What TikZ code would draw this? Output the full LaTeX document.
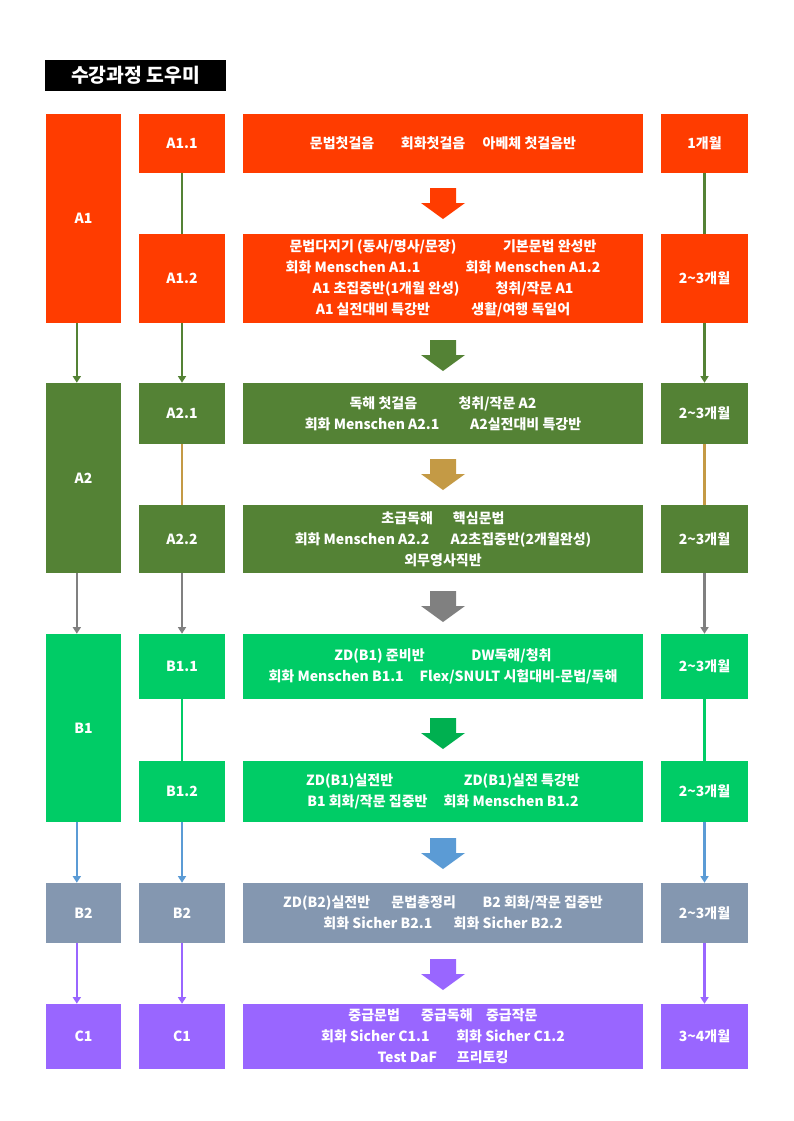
\documentclass[tikz,border=0pt]{standalone}
\usepackage{fontspec}
\setmainfont{Noto Sans CJK KR}
\usetikzlibrary{arrows.meta}
\definecolor{fire}{HTML}{FF3C00}
\definecolor{olive}{HTML}{548235}
\definecolor{sand}{HTML}{C49A45}
\definecolor{mint}{HTML}{00CC66}
\definecolor{leaf}{HTML}{00B050}
\definecolor{sky}{HTML}{5B9BD5}
\definecolor{slate}{HTML}{8497B0}
\definecolor{lilac}{HTML}{9966FF}
\definecolor{grey}{HTML}{808080}
% big block arrow between the course boxes
\newcommand\bigarrow[2]{\fill[#1] (430,#2) -- ++(26,0) -- ++(0,15) -- ++(9,0) -- ++(-22,16) -- ++(-22,-16) -- ++(9,0) -- cycle;}
\begin{document}
\begin{tikzpicture}[x=0.75pt,y=-0.75pt,
  box/.style={text=white,font=\bfseries\fontsize{10.5}{15.75}\selectfont,align=center,inner sep=0pt},
  lvl/.style={box,minimum width=56.25pt},
  sub/.style={box,minimum width=64.5pt},
  info/.style={box,minimum width=300pt},
  term/.style={box,minimum width=65.25pt},
  link/.style={line width=1.6pt},
  go/.style={link,-{Triangle[width=6pt,length=5pt]}}]
\fill[white] (0,0) rectangle (793,1121);
\useasboundingbox (0,0) rectangle (793,1121);
\node[fill=black,text=white,font=\bfseries\fontsize{14.5}{17}\selectfont,minimum width=135.75pt,minimum height=23.25pt] (title) at (135.5,75.5) {수강과정 도우미};

% A1
\node[lvl,fill=fire,minimum height=156.75pt] (A1) at (83.5,218.5) {A1};
\node[sub,fill=fire,minimum height=44.25pt] (a11) at (182,143.5) {A1.1};
\node[info,fill=fire,minimum height=44.25pt] (i11) at (443,143.5) {문법첫걸음\hspace{20pt}회화첫걸음\hspace{13pt}아베체 첫걸음반};
\node[term,fill=fire,minimum height=44.25pt] (t11) at (704.5,143.5) {1개월};
\node[sub,fill=fire,minimum height=66.75pt] (a12) at (182,278.5) {A1.2};
\node[info,fill=fire,minimum height=66.75pt] (i12) at (443,278.5) {문법다지기 (동사/명사/문장)\hspace{35pt}기본문법 완성반\\
  회화 Menschen A1.1\hspace{34pt}회화 Menschen A1.2\\
  A1 초집중반(1개월 완성)\hspace{27pt}청취/작문 A1\\
  A1 실전대비 특강반\hspace{31pt}생활/여행 독일어};
\node[term,fill=fire,minimum height=66.75pt] (t12) at (704.5,278.5) {2\textasciitilde3개월};

% A2
\node[lvl,fill=olive,minimum height=142.5pt] (A2) at (83.5,478) {A2};
\node[sub,fill=olive,minimum height=45.75pt] (a21) at (182,413.5) {A2.1};
\node[info,fill=olive,minimum height=45.75pt] (i21) at (443,413.5) {독해 첫걸음\hspace{31pt}청취/작문 A2\\
  회화 Menschen A2.1\hspace{23pt}A2실전대비 특강반};
\node[term,fill=olive,minimum height=45.75pt] (t21) at (704.5,413.5) {2\textasciitilde3개월};
\node[sub,fill=olive,minimum height=51pt] (a22) at (182,539) {A2.2};
\node[info,fill=olive,minimum height=51pt] (i22) at (443,539) {초급독해\hspace{15pt}핵심문법\\
  회화 Menschen A2.2\hspace{16pt}A2초집중반(2개월완성)\\
  외무영사직반};
\node[term,fill=olive,minimum height=51pt] (t22) at (704.5,539) {2\textasciitilde3개월};

% B1
\node[lvl,fill=mint,minimum height=141pt] (B1) at (83.5,728) {B1};
\node[sub,fill=mint,minimum height=48.75pt] (b11) at (182,666.5) {B1.1};
\node[info,fill=mint,minimum height=48.75pt] (j11) at (443,666.5) {ZD(B1) 준비반\hspace{35pt}DW독해/청취\\
  회화 Menschen B1.1\hspace{12pt}Flex/SNULT 시험대비-문법/독해};
\node[term,fill=mint,minimum height=48.75pt] (u11) at (704.5,666.5) {2\textasciitilde3개월};
\node[sub,fill=mint,minimum height=45.75pt] (b12) at (182,791.5) {B1.2};
\node[info,fill=mint,minimum height=45.75pt] (j12) at (443,791.5) {ZD(B1)실전반\hspace{53pt}ZD(B1)실전 특강반\\
  B1 회화/작문 집중반\hspace{12pt}회화 Menschen B1.2};
\node[term,fill=mint,minimum height=45.75pt] (u12) at (704.5,791.5) {2\textasciitilde3개월};

% B2
\node[lvl,fill=slate,minimum height=45pt] (B2) at (83.5,913) {B2};
\node[sub,fill=slate,minimum height=45pt] (b2) at (182,913) {B2};
\node[info,fill=slate,minimum height=45pt] (j2) at (443,913) {ZD(B2)실전반\hspace{16pt}문법총정리\hspace{20pt}B2 회화/작문 집중반\\
  회화 Sicher B2.1\hspace{16pt}회화 Sicher B2.2};
\node[term,fill=slate,minimum height=45pt] (u2) at (704.5,913) {2\textasciitilde3개월};

% C1
\node[lvl,fill=lilac,minimum height=48.75pt] (C1) at (83.5,1036.5) {C1};
\node[sub,fill=lilac,minimum height=48.75pt] (c1) at (182,1036.5) {C1};
\node[info,fill=lilac,minimum height=48.75pt] (k1) at (443,1036.5) {중급문법\hspace{16pt}중급독해\hspace{10pt}중급작문\\
  회화 Sicher C1.1\hspace{20pt}회화 Sicher C1.2\\
  Test DaF\hspace{15pt}프리토킹};
\node[term,fill=lilac,minimum height=48.75pt] (v1) at (704.5,1036.5) {3\textasciitilde4개월};

% level column
\draw[go,olive] ([xshift=-5pt]A1.south) -- ([xshift=-5pt]A2.north);
\draw[go,grey] ([xshift=-5pt]A2.south) -- ([xshift=-5pt]B1.north);
\draw[go,sky] ([xshift=-5pt]B1.south) -- ([xshift=-5pt]B2.north);
\draw[go,lilac] ([xshift=-5pt]B2.south) -- ([xshift=-5pt]C1.north);

% sub level column
\draw[link,olive] (a11) -- (a12);
\draw[go,olive] (a12) -- (a21);
\draw[link,sand] (a21) -- (a22);
\draw[go,grey] (a22) -- (b11);
\draw[link,mint] (b11) -- (b12);
\draw[go,sky] (b12) -- (b2);
\draw[go,lilac] (b2) -- (c1);

% term column
\draw[link,olive] (t11) -- (t12);
\draw[go,olive] (t12) -- (t21);
\draw[link,sand] (t21) -- (t22);
\draw[go,grey] (t22) -- (u11);
\draw[link,mint] (u11) -- (u12);
\draw[go,sky] (u12) -- (u2);
\draw[go,lilac] (u2) -- (v1);

% block arrows
\bigarrow{fire}{188}
\bigarrow{olive}{340}
\bigarrow{sand}{459}
\bigarrow{grey}{591}
\bigarrow{leaf}{718}
\bigarrow{sky}{838}
\bigarrow{lilac}{959}
\end{tikzpicture}
\end{document}
